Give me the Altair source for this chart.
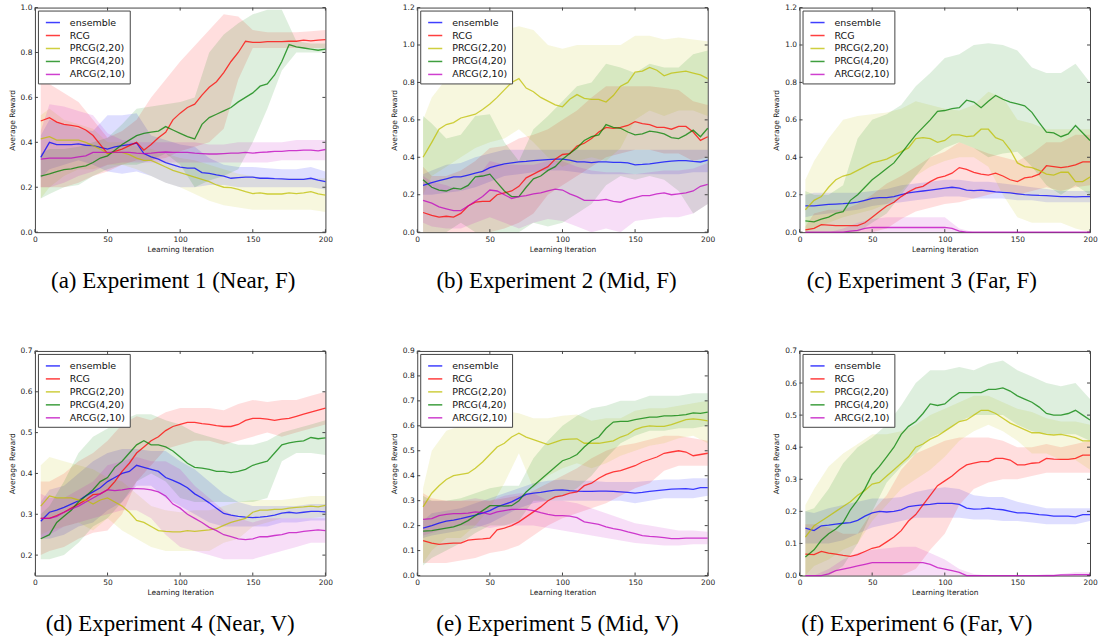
import altair as alt
import pandas as pd

SERIES = ["ensemble", "RCG", "PRCG(2,20)", "PRCG(4,20)", "ARCG(2,10)"]
COLORS = ["#0000ff", "#ff0000", "#bfbf00", "#008000", "#bf00bf"]

X_MEAN = [4, 10, 15, 20, 25, 30, 35, 40, 45, 50, 55, 60, 65, 70, 75, 80, 85, 90, 95, 100,
          105, 110, 115, 120, 125, 130, 135, 140, 145, 150, 155, 160, 165, 170, 175, 180, 185, 190, 195, 200]
X_BAND = [4, 10, 20, 30, 40, 50, 60, 70, 80, 90, 100, 110, 120, 130, 140, 150, 160, 170, 180, 190, 200]
X_TICKS = [0, 50, 100, 150, 200]

# ---------------- Panel (a) ----------------
A_ENS = [.333, .40, .39, .39, .39, .393, .387, .385, .378, .37, .38, .385, .39, .397, .35, .335, .325, .31, .30, .29,
         .285, .285, .265, .262, .255, .25, .24, .243, .245, .245, .24, .24, .238, .237, .235, .235, .235, .24, .232, .225]
A_RCG = [.495, .51, .49, .48, .475, .47, .455, .43, .39, .35, .36, .37, .385, .40, .365, .39, .42, .445, .50, .53,
         .555, .57, .61, .645, .67, .71, .76, .80, .85, .845, .845, .848, .848, .848, .85, .85, .855, .852, .855, .857]
A_P220 = [.415, .425, .41, .41, .41, .41, .40, .385, .37, .35, .355, .355, .345, .33, .32, .32, .305, .29, .275, .265,
          .255, .245, .235, .225, .21, .20, .198, .19, .18, .172, .175, .17, .17, .17, .175, .172, .175, .18, .17, .165]
A_P420 = [.25, .26, .27, .278, .282, .29, .295, .31, .33, .34, .365, .39, .41, .43, .44, .445, .45, .47, .455, .44,
          .425, .415, .48, .51, .525, .54, .555, .58, .60, .62, .65, .66, .70, .76, .835, .825, .82, .815, .81, .815]
A_ARCG = [.325, .33, .33, .33, .33, .335, .34, .355, .355, .355, .355, .355, .355, .352, .35, .352, .355, .357, .355, .355,
          .355, .352, .35, .348, .348, .35, .352, .352, .355, .352, .355, .357, .36, .36, .363, .363, .365, .365, .362, .368]
A_ENS_LO = [.24, .28, .30, .32, .30, .27, .26, .27, .25, .22, .20, .20, .21, .21, .20, .20, .20, .20, .20, .20, .19]
A_ENS_HI = [.43, .50, .48, .46, .45, .52, .52, .53, .43, .41, .39, .38, .33, .30, .29, .29, .285, .28, .28, .29, .27]
A_RCG_LO = [.20, .20, .20, .22, .25, .27, .30, .32, .32, .33, .36, .38, .40, .46, .68, .82, .82, .82, .82, .82, .82]
A_RCG_HI = [.68, .66, .62, .58, .50, .42, .45, .50, .60, .68, .76, .83, .90, .97, .96, .90, .89, .89, .89, .895, .90]
A_P220_LO = [.15, .20, .25, .28, .28, .30, .30, .28, .25, .22, .20, .17, .14, .12, .11, .10, .10, .10, .10, .10, .09]
A_P220_HI = [.52, .55, .50, .48, .46, .40, .40, .38, .37, .35, .33, .32, .30, .28, .26, .25, .24, .24, .24, .24, .24]
A_P420_LO = [.15, .17, .20, .21, .25, .28, .30, .30, .32, .35, .30, .20, .23, .25, .28, .40, .55, .72, .80, .80, .80]
A_P420_HI = [.35, .37, .37, .38, .40, .42, .48, .55, .56, .57, .58, .60, .80, .88, .93, .97, .99, .99, .85, .84, .84]
A_ARCG_LO = [.20, .20, .22, .25, .27, .30, .31, .31, .31, .31, .31, .31, .31, .31, .31, .31, .31, .32, .32, .32, .32]
A_ARCG_HI = [.45, .57, .56, .54, .52, .44, .41, .40, .40, .40, .40, .40, .39, .39, .40, .40, .40, .40, .41, .41, .41]

# ---------------- Panel (b) ----------------
B_ENS = [.25, .265, .275, .285, .295, .295, .305, .315, .325, .345, .355, .365, .37, .375, .378, .382, .385, .388, .39, .39,
         .385, .375, .375, .372, .375, .375, .373, .373, .37, .36, .362, .365, .37, .375, .38, .382, .382, .378, .375, .385]
B_RCG = [.105, .09, .08, .085, .08, .10, .14, .16, .165, .165, .20, .21, .22, .245, .29, .31, .33, .35, .39, .415,
         .42, .46, .475, .50, .535, .56, .555, .56, .57, .59, .58, .575, .56, .56, .55, .565, .565, .535, .49, .51]
B_P220 = [.40, .48, .55, .575, .585, .61, .62, .63, .655, .685, .72, .76, .80, .82, .77, .75, .72, .70, .68, .67,
          .71, .735, .715, .71, .71, .695, .73, .78, .80, .855, .86, .88, .865, .835, .85, .855, .86, .85, .84, .82]
B_P420 = [.28, .24, .225, .22, .235, .23, .25, .295, .30, .31, .265, .22, .19, .19, .24, .285, .30, .33, .35, .39,
          .42, .45, .49, .51, .52, .575, .56, .555, .535, .52, .525, .54, .535, .525, .505, .50, .52, .545, .51, .555]
B_ARCG = [.17, .155, .135, .125, .115, .115, .14, .165, .19, .225, .22, .20, .18, .19, .195, .205, .21, .22, .23, .225,
          .205, .19, .17, .17, .17, .175, .165, .16, .175, .185, .195, .195, .205, .21, .20, .205, .21, .22, .245, .255]
B_ENS_LO = [.20, .20, .21, .22, .24, .27, .30, .31, .32, .33, .33, .32, .31, .31, .31, .31, .31, .31, .31, .32, .32]
B_ENS_HI = [.31, .33, .36, .37, .40, .42, .44, .44, .44, .44, .44, .44, .44, .44, .44, .44, .44, .44, .44, .44, .44]
B_RCG_LO = [0, 0, 0, 0, 0, 0, .02, .05, .10, .20, .25, .30, .35, .40, .42, .44, .44, .42, .42, .38, .40]
B_RCG_HI = [.35, .30, .30, .33, .38, .45, .46, .50, .52, .55, .60, .65, .72, .78, .78, .78, .78, .77, .76, .70, .68]
B_P220_LO = [.20, .30, .35, .40, .45, .48, .50, .55, .48, .40, .35, .38, .40, .38, .45, .60, .65, .62, .65, .65, .62]
B_P220_HI = [.60, .72, .82, .90, 1.0, 1.05, 1.08, 1.10, 1.08, 1.0, .98, 1.0, 1.0, 1.0, 1.0, 1.05, 1.05, 1.03, 1.04, 1.03, 1.02]
B_P420_LO = [0, 0, 0, .05, 0, 0, 0, 0, .05, .03, .05, .10, .15, .25, .30, .28, .30, .28, .22, .10, .15]
B_P420_HI = [.62, .58, .50, .52, .62, .63, .48, .38, .55, .62, .70, .78, .80, .90, .88, .85, .90, .88, .88, .95, .97]
B_ARCG_LO = [.05, .03, .02, .02, .05, .08, .05, .02, .05, .07, .06, .03, 0, .02, 0, .06, .07, .08, .08, .10, .15]
B_ARCG_HI = [.30, .27, .25, .22, .28, .38, .36, .36, .36, .38, .38, .35, .33, .32, .32, .31, .32, .33, .33, .34, .37]

# ---------------- Panel (c) ----------------
C_ENS = [.14, .14, .145, .148, .15, .152, .155, .16, .17, .18, .185, .185, .19, .20, .21, .215, .22, .225, .23, .235,
         .24, .235, .225, .222, .225, .22, .215, .213, .21, .205, .20, .198, .196, .195, .193, .19, .19, .188, .19, .19]
C_RCG = [.012, .02, .04, .038, .035, .035, .035, .035, .05, .08, .11, .14, .16, .19, .215, .235, .245, .27, .29, .30,
         .315, .345, .335, .32, .31, .305, .315, .30, .28, .27, .29, .295, .31, .355, .35, .345, .35, .36, .375, .375]
C_P220 = [.12, .17, .19, .24, .28, .30, .31, .33, .35, .37, .38, .39, .41, .43, .45, .50, .505, .50, .48, .49,
          .52, .52, .51, .515, .55, .55, .505, .49, .44, .37, .35, .345, .33, .31, .305, .32, .32, .27, .27, .295]
C_P420 = [.06, .055, .07, .08, .10, .11, .17, .20, .24, .28, .31, .34, .37, .42, .47, .52, .56, .60, .645, .65,
          .66, .665, .705, .695, .665, .70, .73, .71, .695, .685, .675, .64, .585, .535, .53, .51, .525, .57, .53, .49]
C_ARCG = [0, 0, 0, 0, 0, 0, .005, .01, .02, .025, .025, .025, .025, .025, .025, .025, .025, .025, .025, .025,
          .02, .005, 0, 0, 0, 0, 0, 0, 0, 0, 0, 0, 0, 0, 0, 0, 0, 0, 0, 0]
C_ENS_LO = [.08, .09, .10, .11, .12, .14, .15, .16, .17, .18, .19, .19, .18, .18, .18, .17, .17, .16, .16, .16, .16]
C_ENS_HI = [.20, .21, .21, .21, .21, .22, .23, .25, .26, .27, .28, .28, .27, .27, .26, .25, .24, .23, .22, .22, .22]
C_RCG_LO = [0, 0, 0, 0, 0, 0, .02, .07, .11, .13, .15, .16, .18, .20, .22, .20, .22, .24, .22, .24, .25]
C_RCG_HI = [.03, .10, .12, .12, .15, .20, .26, .30, .35, .40, .43, .48, .45, .42, .40, .38, .42, .48, .48, .52, .52]
C_P220_LO = [0, .02, .05, .08, .10, .12, .15, .22, .30, .35, .38, .40, .40, .35, .20, .08, .05, .05, .05, .02, 0]
C_P220_HI = [.28, .38, .50, .60, .62, .63, .64, .66, .70, .68, .66, .65, .68, .75, .72, .60, .58, .55, .55, .55, .55]
C_P420_LO = [0, 0, 0, 0, 0, .05, .10, .20, .30, .40, .45, .48, .45, .40, .42, .43, .35, .25, .20, .25, .20]
C_P420_HI = [.22, .20, .20, .25, .50, .60, .63, .68, .78, .85, .93, .95, 1.0, 1.01, 1.0, .97, .88, .85, .85, .90, .80]
C_ARCG_LO = [0, 0, 0, 0, 0, 0, 0, 0, 0, 0, 0, 0, 0, 0, 0, 0, 0, 0, 0, 0, 0]
C_ARCG_HI = [0, 0, 0, .02, .05, .07, .08, .08, .08, .08, .08, .02, 0, 0, 0, 0, 0, 0, 0, 0, 0]

# ---------------- Panel (d) ----------------
D_ENS = [.283, .305, .31, .317, .325, .333, .345, .355, .365, .38, .39, .40, .405, .42, .415, .41, .405, .39, .383, .375,
         .365, .35, .34, .328, .315, .302, .298, .295, .293, .292, .293, .295, .298, .303, .305, .303, .305, .307, .307, .306]
D_RCG = [.29, .29, .297, .305, .315, .325, .335, .348, .35, .36, .38, .405, .425, .45, .465, .48, .49, .505, .515, .52,
         .525, .525, .522, .52, .517, .515, .515, .52, .53, .535, .535, .533, .53, .533, .535, .54, .545, .55, .555, .56]
D_P220 = [.32, .345, .34, .34, .34, .335, .335, .325, .335, .34, .33, .32, .305, .285, .28, .27, .26, .258, .257, .257,
          .26, .258, .26, .262, .265, .273, .28, .285, .29, .305, .31, .31, .312, .312, .315, .317, .318, .32, .318, .322]
D_P420 = [.24, .25, .28, .295, .31, .33, .345, .36, .38, .39, .415, .43, .45, .47, .48, .47, .47, .465, .455, .44,
          .425, .415, .413, .41, .405, .405, .402, .405, .41, .42, .425, .43, .45, .47, .475, .478, .48, .488, .485, .487]
D_ARCG = [.29, .29, .295, .305, .313, .32, .33, .34, .35, .36, .358, .36, .363, .363, .362, .36, .355, .345, .325, .315,
          .30, .29, .28, .268, .26, .25, .245, .24, .238, .24, .245, .245, .248, .25, .255, .255, .258, .26, .262, .26]
D_ENS_LO = [.24, .24, .25, .27, .28, .31, .33, .37, .37, .34, .32, .30, .28, .27, .27, .27, .27, .28, .28, .285, .285]
D_ENS_HI = [.33, .36, .37, .40, .43, .45, .46, .46, .455, .455, .43, .41, .38, .35, .33, .32, .32, .32, .32, .325, .325]
D_RCG_LO = [.20, .21, .22, .24, .255, .26, .30, .38, .42, .46, .47, .48, .48, .47, .48, .49, .50, .49, .50, .51, .52]
D_RCG_HI = [.38, .38, .40, .43, .45, .48, .52, .54, .53, .55, .56, .56, .56, .555, .57, .58, .575, .58, .58, .59, .60]
D_P220_LO = [.25, .26, .27, .28, .26, .29, .26, .24, .22, .21, .21, .21, .21, .23, .24, .27, .28, .29, .29, .29, .295]
D_P220_HI = [.42, .44, .43, .42, .41, .39, .38, .35, .32, .31, .305, .31, .31, .32, .33, .335, .335, .335, .34, .345, .345]
D_P420_LO = [.19, .19, .20, .23, .27, .29, .33, .38, .40, .38, .34, .33, .33, .33, .33, .33, .34, .43, .45, .45, .445]
D_P420_HI = [.30, .32, .38, .45, .49, .51, .53, .545, .545, .53, .52, .50, .49, .48, .47, .47, .48, .50, .51, .52, .53]
D_ARCG_LO = [.24, .25, .27, .28, .29, .30, .31, .31, .29, .25, .22, .21, .20, .19, .19, .19, .20, .21, .22, .23, .23]
D_ARCG_HI = [.35, .34, .34, .36, .38, .42, .43, .44, .43, .43, .41, .37, .34, .31, .29, .28, .29, .29, .29, .29, .29]

# ---------------- Panel (e) ----------------
E_ENS = [.19, .20, .21, .218, .222, .228, .235, .242, .25, .26, .275, .285, .295, .31, .325, .33, .333, .338, .342, .343,
         .34, .338, .337, .337, .338, .338, .337, .335, .333, .33, .333, .337, .34, .343, .346, .347, .348, .345, .352, .352]
E_RCG = [.14, .13, .125, .128, .13, .13, .142, .145, .147, .15, .183, .19, .20, .215, .235, .255, .275, .30, .315, .32,
         .33, .335, .36, .37, .39, .405, .415, .42, .43, .44, .455, .465, .475, .49, .495, .50, .495, .48, .485, .49]
E_P220 = [.275, .33, .36, .385, .40, .405, .41, .43, .455, .485, .515, .53, .555, .57, .555, .545, .535, .525, .535, .545,
          .547, .548, .53, .53, .53, .535, .54, .555, .565, .585, .595, .60, .598, .598, .605, .615, .625, .628, .625, .62]
E_P420 = [.178, .18, .185, .19, .195, .205, .22, .24, .26, .28, .28, .278, .28, .30, .335, .36, .385, .41, .435, .46,
          .47, .485, .515, .54, .555, .59, .615, .618, .618, .625, .63, .635, .635, .64, .64, .642, .645, .652, .65, .655]
E_ARCG = [.225, .228, .24, .245, .248, .248, .25, .255, .252, .245, .255, .26, .265, .265, .265, .26, .252, .245, .24, .24,
          .238, .232, .215, .21, .205, .195, .188, .183, .175, .168, .16, .157, .155, .152, .148, .148, .15, .15, .15, .15]
E_ENS_LO = [.15, .16, .17, .18, .19, .21, .24, .27, .29, .30, .30, .30, .30, .30, .30, .29, .30, .31, .31, .31, .32]
E_ENS_HI = [.22, .25, .26, .27, .29, .31, .33, .35, .37, .38, .385, .38, .38, .375, .375, .375, .38, .385, .385, .39, .39]
E_RCG_LO = [.05, .05, .05, .06, .07, .09, .10, .12, .16, .20, .23, .25, .27, .29, .32, .35, .37, .42, .44, .44, .44]
E_RCG_HI = [.33, .31, .30, .30, .30, .30, .31, .32, .34, .37, .40, .43, .47, .50, .52, .53, .545, .56, .56, .55, .54]
E_P220_LO = [.05, .10, .15, .15, .20, .27, .37, .49, .35, .40, .43, .45, .43, .45, .48, .50, .52, .53, .55, .56, .53]
E_P220_HI = [.35, .50, .58, .60, .62, .64, .66, .65, .63, .63, .64, .645, .62, .63, .63, .66, .67, .67, .68, .69, .70]
E_P420_LO = [.04, .07, .10, .13, .17, .20, .20, .22, .30, .30, .32, .35, .40, .47, .53, .56, .58, .58, .59, .59, .60]
E_P420_HI = [.32, .30, .30, .31, .33, .35, .36, .36, .47, .54, .60, .64, .67, .68, .70, .70, .72, .72, .72, .73, .73]
E_ARCG_LO = [.16, .17, .19, .20, .20, .19, .20, .20, .20, .19, .18, .17, .16, .15, .14, .13, .125, .12, .12, .125, .125]
E_ARCG_HI = [.30, .30, .30, .30, .31, .30, .32, .33, .33, .30, .30, .29, .27, .25, .23, .21, .20, .19, .18, .18, .175]

# ---------------- Panel (f) ----------------
F_ENS = [.148, .14, .155, .157, .16, .163, .165, .172, .185, .195, .20, .198, .20, .205, .215, .218, .22, .222, .225, .225,
         .225, .222, .21, .207, .208, .21, .207, .205, .20, .195, .195, .193, .19, .188, .185, .185, .185, .183, .19, .19]
F_RCG = [.067, .065, .075, .07, .067, .063, .06, .065, .075, .085, .09, .105, .12, .14, .17, .19, .22, .25, .28, .295,
         .31, .33, .345, .35, .355, .355, .365, .365, .36, .345, .345, .35, .352, .365, .363, .362, .362, .365, .375, .375]
F_P220 = [.12, .155, .17, .185, .20, .215, .23, .25, .265, .285, .29, .31, .33, .35, .37, .40, .41, .425, .435, .45,
          .465, .48, .485, .50, .515, .515, .505, .49, .475, .465, .455, .445, .445, .44, .438, .44, .435, .43, .42, .42]
F_P420 = [.058, .08, .11, .13, .145, .165, .205, .235, .27, .315, .34, .37, .40, .44, .465, .48, .505, .535, .53, .535,
          .555, .57, .57, .57, .57, .58, .58, .585, .575, .56, .55, .54, .525, .505, .50, .50, .505, .515, .50, .485]
F_ARCG = [0, 0, 0, .005, .015, .02, .025, .03, .035, .04, .04, .04, .04, .04, .04, .04, .04, .035, .025, .02,
          .015, .01, 0, 0, 0, 0, 0, 0, 0, 0, 0, 0, 0, 0, 0, .002, .002, .003, .003, .003]
F_ENS_LO = [.10, .10, .10, .11, .13, .15, .16, .17, .18, .18, .18, .18, .175, .175, .17, .17, .165, .16, .16, .16, .17]
F_ENS_HI = [.20, .195, .21, .22, .23, .24, .24, .245, .26, .27, .275, .27, .25, .245, .245, .23, .22, .21, .21, .21, .21]
F_RCG_LO = [0, 0, 0, 0, 0, 0, 0, 0, .02, .08, .13, .22, .27, .29, .30, .30, .31, .32, .32, .32, .32]
F_RCG_HI = [.16, .16, .15, .13, .13, .20, .25, .33, .38, .40, .42, .43, .43, .43, .42, .40, .40, .41, .40, .41, .42]
F_P220_LO = [0, .03, .05, .08, .10, .17, .22, .27, .30, .33, .37, .42, .45, .47, .45, .42, .38, .38, .36, .36, .33]
F_P220_HI = [.22, .27, .34, .38, .41, .44, .44, .45, .47, .50, .52, .54, .56, .56, .54, .52, .51, .49, .48, .48, .47]
F_P420_LO = [0, 0, 0, .03, .10, .20, .29, .34, .38, .43, .45, .48, .50, .50, .50, .47, .45, .44, .44, .44, .42]
F_P420_HI = [.20, .21, .27, .35, .40, .43, .47, .53, .60, .64, .64, .65, .64, .66, .67, .64, .62, .60, .59, .60, .55]
F_ARCG_LO = [0, 0, 0, 0, 0, 0, 0, 0, 0, 0, 0, 0, 0, 0, 0, 0, 0, 0, 0, 0, 0]
F_ARCG_HI = [0, 0, .02, .05, .07, .08, .085, .09, .09, .07, .05, .02, .005, 0, 0, 0, 0, .005, .005, .01, .01]

Y_DOMAINS = [[0, 1.0], [0, 1.2], [0, 1.2], [0.15, 0.7], [0, 0.9], [0, 0.7]]
Y_TICKS = [[0, .2, .4, .6, .8, 1.0], [0, .2, .4, .6, .8, 1.0, 1.2], [0, .2, .4, .6, .8, 1.0, 1.2],
           [.2, .3, .4, .5, .6, .7], [0, .1, .2, .3, .4, .5, .6, .7, .8, .9], [0, .1, .2, .3, .4, .5, .6, .7]]
CAPTIONS = ["(a)  Experiment 1 (Near, F)", "(b)  Experiment 2 (Mid, F)", "(c)  Experiment 3 (Far, F)",
            "(d)  Experiment 4 (Near, V)", "(e)  Experiment 5 (Mid, V)", "(f)  Experiment 6 (Far, V)"]
CAPTION_DX = [-7, -6, -23, -10, -5, -28]

MEANS = [
    [A_ENS, A_RCG, A_P220, A_P420, A_ARCG],
    [B_ENS, B_RCG, B_P220, B_P420, B_ARCG],
    [C_ENS, C_RCG, C_P220, C_P420, C_ARCG],
    [D_ENS, D_RCG, D_P220, D_P420, D_ARCG],
    [E_ENS, E_RCG, E_P220, E_P420, E_ARCG],
    [F_ENS, F_RCG, F_P220, F_P420, F_ARCG],
]
LOWS = [
    [A_ENS_LO, A_RCG_LO, A_P220_LO, A_P420_LO, A_ARCG_LO],
    [B_ENS_LO, B_RCG_LO, B_P220_LO, B_P420_LO, B_ARCG_LO],
    [C_ENS_LO, C_RCG_LO, C_P220_LO, C_P420_LO, C_ARCG_LO],
    [D_ENS_LO, D_RCG_LO, D_P220_LO, D_P420_LO, D_ARCG_LO],
    [E_ENS_LO, E_RCG_LO, E_P220_LO, E_P420_LO, E_ARCG_LO],
    [F_ENS_LO, F_RCG_LO, F_P220_LO, F_P420_LO, F_ARCG_LO],
]
HIGHS = [
    [A_ENS_HI, A_RCG_HI, A_P220_HI, A_P420_HI, A_ARCG_HI],
    [B_ENS_HI, B_RCG_HI, B_P220_HI, B_P420_HI, B_ARCG_HI],
    [C_ENS_HI, C_RCG_HI, C_P220_HI, C_P420_HI, C_ARCG_HI],
    [D_ENS_HI, D_RCG_HI, D_P220_HI, D_P420_HI, D_ARCG_HI],
    [E_ENS_HI, E_RCG_HI, E_P220_HI, E_P420_HI, E_ARCG_HI],
    [F_ENS_HI, F_RCG_HI, F_P220_HI, F_P420_HI, F_ARCG_HI],
]

W, H = 291, 225
TICK_LEN = 3
FRAME = "#444444"
FONT = "DejaVu Sans"


def make_panel(i):
    line_rows = []
    for s, m in zip(SERIES, MEANS[i]):
        for x, v in zip(X_MEAN, m):
            line_rows.append({"series": s, "x": x, "y": v})
    line_df = pd.DataFrame(line_rows)

    xscale = alt.Scale(domain=[0, 200], nice=False, zero=False)
    yscale = alt.Scale(domain=Y_DOMAINS[i], nice=False, zero=False)
    xaxis = alt.Axis(values=X_TICKS, format="d", title="Learning Iteration", grid=False, domain=False,
                     ticks=False, labelFont=FONT, titleFont=FONT, labelFontSize=7.5, titleFontSize=7.5,
                     titleFontWeight="normal", labelColor="#222", titleColor="#222", labelPadding=3,
                     titlePadding=3, labelFlush=False)
    yaxis = alt.Axis(values=Y_TICKS[i], format=".1f", title="Average Reward", grid=False, domain=False,
                     ticks=False, labelFont=FONT, titleFont=FONT, labelFontSize=7.5, titleFontSize=7.5,
                     titleFontWeight="normal", labelColor="#222", titleColor="#222", labelPadding=3,
                     titlePadding=4)

    # one band layer per series, each with a constant colour (no colour/fill encoding)
    band_layers = []
    for s, c, lo, hi in zip(SERIES, COLORS, LOWS[i], HIGHS[i]):
        bdf = pd.DataFrame({"x": X_BAND[:len(lo)], "lo": lo, "hi": hi})
        band_layers.append(
            alt.Chart(bdf).mark_area(color=c, opacity=0.13).encode(
                x=alt.X("x:Q", scale=xscale, axis=xaxis),
                y=alt.Y("lo:Q", scale=yscale, axis=yaxis, stack=None),
                y2="hi:Q",
            )
        )

    legend = alt.Legend(orient="top-left", title=None, symbolType="stroke", symbolSize=200,
                        symbolStrokeWidth=1.5, symbolOffset=3, labelFont=FONT, labelFontSize=9.5,
                        labelColor="#111", strokeColor=FRAME, fillColor="#ffffff", padding=4, offset=3,
                        rowPadding=0, labelOffset=9)
    lines = alt.Chart(line_df).mark_line(strokeWidth=1.3, opacity=0.75).encode(
        x=alt.X("x:Q", scale=xscale, axis=xaxis),
        y=alt.Y("y:Q", scale=yscale, axis=yaxis),
        color=alt.Color("series:N", scale=alt.Scale(domain=SERIES, range=COLORS), legend=legend),
    )
    xt = pd.DataFrame({"x": X_TICKS})
    yt = pd.DataFrame({"y": Y_TICKS[i]})
    xt_bot = alt.Chart(xt).mark_rule(color=FRAME, strokeWidth=1).encode(
        x=alt.X("x:Q", scale=xscale, axis=xaxis), y=alt.value(H), y2=alt.value(H - TICK_LEN))
    xt_top = alt.Chart(xt).mark_rule(color=FRAME, strokeWidth=1).encode(
        x=alt.X("x:Q", scale=xscale, axis=xaxis), y=alt.value(0), y2=alt.value(TICK_LEN))
    yt_left = alt.Chart(yt).mark_rule(color=FRAME, strokeWidth=1).encode(
        y=alt.Y("y:Q", scale=yscale, axis=yaxis), x=alt.value(0), x2=alt.value(TICK_LEN))
    yt_right = alt.Chart(yt).mark_rule(color=FRAME, strokeWidth=1).encode(
        y=alt.Y("y:Q", scale=yscale, axis=yaxis), x=alt.value(W), x2=alt.value(W - TICK_LEN))

    title = alt.TitleParams(text=CAPTIONS[i], orient="bottom", anchor="middle", frame="group",
                            font="Liberation Serif", fontSize=23, fontWeight="normal", color="#000",
                            offset=17, dx=CAPTION_DX[i])
    return alt.layer(*band_layers, xt_bot, xt_top, yt_left, yt_right, lines).properties(
        width=W, height=H, title=title)


panels = [make_panel(i) for i in range(6)]

chart = alt.concat(*panels, columns=3, spacing={"row": 119, "column": 92}, bounds="flush").resolve_scale(
    x="independent", y="independent", color="independent"
).resolve_legend(color="independent").configure_view(
    stroke=FRAME, strokeWidth=1
).properties(
    padding={"left": 7, "top": 2, "right": 0, "bottom": 0}, background="white"
)

chart.save("out.html", embed_options={"renderer": "svg", "actions": False})
